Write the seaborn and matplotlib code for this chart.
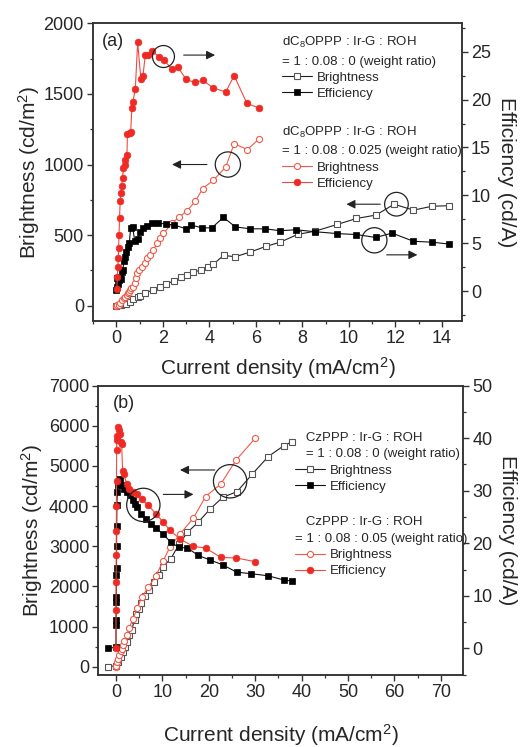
import matplotlib
matplotlib.use('Agg')
import matplotlib.pyplot as plt
from matplotlib.legend import Legend
from matplotlib.ticker import MultipleLocator
import seaborn as sns

# ---------------- panel (a): dC8OPPP : Ir-G : ROH ----------------
# ROH = 0 : brightness (left axis)
a0_bright_x = [0.0, 0.1, 0.2, 0.3, 0.43, 0.57, 0.74, 0.92, 1.03, 1.25, 1.58, 1.86, 2.15, 2.49,
               2.78, 3.04, 3.32, 3.64, 3.93, 4.16, 4.62, 5.12, 5.76, 6.43, 7.05, 7.80, 8.55,
               9.51, 10.33, 11.17, 11.95, 12.78, 13.60, 14.33]
a0_bright_y = [0, 2, 5, 10, 15, 29, 45, 59, 70, 92, 111, 130, 154, 177, 201, 215, 238, 253, 276,
               293, 356, 347, 380, 420, 450, 505, 528, 576, 618, 642, 719, 677, 705, 708]
# ROH = 0 : efficiency (right axis)
a0_eff_x = [0.0, 0.03, 0.05, 0.08, 0.12, 0.15, 0.20, 0.24, 0.28, 0.33, 0.38, 0.43, 0.50, 0.56,
            0.62, 0.70, 0.80, 0.92, 1.03, 1.17, 1.32, 1.53, 1.78, 2.15, 2.49, 3.01, 3.21, 3.68,
            4.11, 4.61, 5.12, 5.76, 6.40, 7.05, 7.72, 8.53, 9.51, 10.32, 11.16, 11.86, 12.78,
            13.60, 14.33]
a0_eff_y = [0.1, 1.4, 0.4, 0.7, 1.1, 1.5, 1.3, 2.0, 2.2, 3.1, 3.6, 4.1, 4.6, 5.0, 6.6, 6.7,
            5.2, 5.4, 6.2, 6.6, 6.8, 7.1, 7.1, 7.0, 6.9, 6.5, 6.9, 6.6, 6.6, 7.7, 6.7, 6.5, 6.5,
            6.3, 6.4, 6.2, 6.0, 5.9, 5.6, 6.05, 5.2, 5.1, 4.9]
# ROH = 0.025 : brightness
a1_bright_x = [0.0, 0.05, 0.10, 0.17, 0.24, 0.32, 0.39, 0.45, 0.50, 0.55, 0.60, 0.65, 0.70,
               0.79, 0.85, 0.89, 0.96, 1.10, 1.22, 1.32, 1.46, 1.60, 1.75, 1.89, 2.03, 2.39,
               2.68, 3.04, 3.40, 3.72, 4.18, 4.71, 5.07, 5.64, 6.16]
a1_bright_y = [0, 2, 5, 20, 40, 52, 64, 76, 88, 100, 111, 123, 135, 158, 194, 229, 253, 276,
               305, 335, 359, 394, 441, 477, 512, 583, 625, 672, 740, 830, 889, 983, 1148,
               1106, 1184]
# ROH = 0.025 : efficiency
a1_eff_x = [0.02, 0.05, 0.07, 0.09, 0.10, 0.12, 0.14, 0.17, 0.20, 0.24, 0.27, 0.31, 0.36,
            0.39, 0.46, 0.48, 0.58, 0.62, 0.67, 0.72, 0.82, 0.92, 1.06, 1.15, 1.25, 1.36,
            1.53, 1.82, 2.06, 2.39, 2.65, 3.01, 3.37, 3.73, 4.18, 4.71, 5.07, 5.62, 6.16]
a1_eff_y = [0.2, 1.5, 2.5, 3.4, 4.5, 5.9, 7.6, 9.4, 10.2, 11.0, 11.8, 12.9, 13.2, 13.7, 14.2,
            16.4, 16.5, 16.6, 19.1, 19.8, 21.1, 26.0, 22.1, 22.5, 24.7, 24.7, 25.1, 24.5,
            24.1, 23.2, 23.4, 22.1, 21.8, 22.0, 21.2, 20.8, 22.5, 19.6, 19.1]

# ---------------- panel (b): CzPPP : Ir-G : ROH ----------------
b0_bright_x = [-1.8, 0.1, 0.5, 1.0, 1.5, 1.9, 2.4, 2.9, 3.4, 4.0, 4.4, 5.0, 5.5, 6.2, 7.2,
               8.2, 9.3, 10.1, 11.8, 13.6, 15.4, 17.7, 20.3, 23.0, 26.1, 29.4, 32.8, 36.2, 38.0]
b0_bright_y = [0, 25, 125, 249, 370, 498, 623, 789, 914, 1163, 1308, 1449, 1590, 1750, 1907,
               2100, 2280, 2492, 2683, 3050, 3347, 3596, 3929, 4219, 4361, 4801, 5233, 5507,
               5606]
b0_eff_x = [-1.8, 0.0, 0.02, 0.04, 0.06, 0.08, 0.10, 0.12, 0.14, 0.16, 0.2, 0.3, 0.4, 0.6,
            0.9, 1.2, 1.7, 2.3, 3.0, 3.6, 4.1, 4.5, 5.3, 6.5, 7.5, 8.6, 10.1, 11.8, 13.6,
            15.4, 17.7, 20.3, 23.0, 26.0, 29.2, 32.8, 36.2, 38.0]
b0_eff_y = [0.0, 0.2, 4.4, 5.4, 8.9, 9.8, 14.0, 15.2, 19.4, 23.2, 27.3, 29.8, 31.1, 32.3,
            32.0, 31.0, 30.3, 29.7, 29.1, 28.3, 27.5, 26.9, 25.6, 24.6, 23.7, 22.9, 21.8,
            20.2, 19.2, 19.1, 17.7, 16.8, 15.9, 14.5, 14.2, 13.8, 13.0, 12.8]
b1_bright_x = [0.0, 0.05, 0.14, 0.36, 0.7, 1.0, 1.22, 1.44, 1.72, 2.30, 2.87, 3.59, 4.60,
               5.53, 6.97, 8.62, 10.2, 11.6, 13.8, 16.7, 19.3, 22.6, 25.9, 30.0]
b1_bright_y = [0, 25, 108, 191, 300, 380, 450, 540, 640, 789, 955, 1180, 1450, 1728, 1977,
               2267, 2641, 2974, 3306, 3704, 4236, 4552, 5150, 5690]
b1_eff_x = [0.0, 0.02, 0.04, 0.06, 0.08, 0.10, 0.12, 0.14, 0.16, 0.29, 0.5, 0.72, 0.9, 1.0,
            1.22, 1.44, 1.72, 2.30, 2.87, 3.59, 4.60, 5.53, 6.97, 8.62, 10.2, 11.6, 13.8,
            16.7, 19.3, 22.6, 25.9, 30.0]
b1_eff_y = [0.0, 7.2, 12.6, 17.7, 22.4, 27.0, 31.9, 37.7, 39.6, 40.5, 42.1, 41.5, 40.8,
            39.2, 38.9, 33.8, 33.1, 31.3, 30.3, 29.7, 29.3, 28.4, 27.2, 25.6, 24.0, 22.5,
            20.8, 19.4, 19.1, 17.3, 17.2, 16.5]

RED = '#ee2a24'
GRAY = '#555555'
INK = '#333333'

sns.set_style('ticks')
plt.rcParams['font.family'] = ['Liberation Sans', 'DejaVu Sans']
plt.rcParams['mathtext.fontset'] = 'custom'
plt.rcParams['mathtext.rm'] = 'Liberation Sans'
plt.rcParams['mathtext.it'] = 'Liberation Sans:italic'
plt.rcParams['mathtext.default'] = 'regular'

styles = {
    'bright0': dict(color='#222222', marker='s', markersize=4.2, markerfacecolor='white',
                    markeredgecolor=GRAY, markeredgewidth=0.8, linewidth=0.8),
    'eff0': dict(color='#111111', marker='s', markersize=4.8, markerfacecolor='black',
                 markeredgecolor='black', markeredgewidth=0.5, linewidth=0.8),
    'bright1': dict(color='#f05a48', marker='o', markersize=4.4, markerfacecolor='white',
                    markeredgecolor='#f05a48', markeredgewidth=0.8, linewidth=0.8),
    'eff1': dict(color='#f04a40', marker='o', markersize=4.8, markerfacecolor=RED,
                 markeredgecolor=RED, markeredgewidth=0.5, linewidth=0.8),
}


def draw(ax, x, y, key):
    sns.lineplot(x=x, y=y, ax=ax, sort=False, estimator=None, **styles[key])
    return ax.lines[-1]


def style_axes(ax, ax2):
    for a in (ax, ax2):
        for sp in a.spines.values():
            sp.set_linewidth(1.1)
            sp.set_color(INK)
        a.tick_params(which='major', direction='out', length=4.5, width=1.0,
                      labelsize=13, color=INK, pad=2)
        a.tick_params(which='minor', direction='out', length=2.5, width=0.9, color=INK)
    ax.tick_params(axis='x', which='both', top=False)
    ax2.tick_params(axis='x', which='both', top=False)


def circle(ax, xy, s):
    ax.scatter([xy[0]], [xy[1]], s=s, facecolors='none', edgecolors='#222222',
               linewidths=0.9, zorder=5)


def arrow(ax, start, end):
    ax.annotate('', xy=end, xytext=start,
                arrowprops=dict(arrowstyle='-|>', color='#222222', lw=0.8,
                                mutation_scale=13, shrinkA=0, shrinkB=0))


def legend_block(ax2, handles, title, anchor, ratio_line, title_spacing):
    leg = Legend(ax2, handles, ['Brightness', 'Efficiency'],
                 title=title + '\n' + ratio_line, loc='upper left',
                 bbox_to_anchor=anchor, frameon=False, fontsize=9.5,
                 title_fontsize=9.5, alignment='left', handlelength=2.3,
                 handletextpad=0.35, labelspacing=0.3, borderpad=0,
                 borderaxespad=0)
    leg.get_title().set_linespacing(title_spacing)
    ax2.add_artist(leg)
    return leg


fig = plt.figure(figsize=(5.21, 7.47), dpi=100)

# ---------- panel (a) ----------
ax_a = fig.add_axes([0.1785, 0.5703, 0.7083, 0.3985])
ax2_a = ax_a.twinx()
hb0 = draw(ax_a, a0_bright_x, a0_bright_y, 'bright0')
hb1 = draw(ax_a, a1_bright_x, a1_bright_y, 'bright1')
he0 = draw(ax2_a, a0_eff_x, a0_eff_y, 'eff0')
he1 = draw(ax2_a, a1_eff_x, a1_eff_y, 'eff1')

ax_a.set_xlim(-1, 14.87)
ax_a.set_ylim(-108, 2000)
ax2_a.set_ylim(-3.13, 27.97)
ax_a.xaxis.set_major_locator(MultipleLocator(2))
ax_a.xaxis.set_minor_locator(MultipleLocator(1))
ax_a.yaxis.set_major_locator(MultipleLocator(500))
ax_a.yaxis.set_minor_locator(MultipleLocator(250))
ax2_a.yaxis.set_major_locator(MultipleLocator(5))
ax2_a.yaxis.set_minor_locator(MultipleLocator(2.5))
style_axes(ax_a, ax2_a)

ax_a.set_xlabel('Current density (mA/cm$^2$)', fontsize=15, labelpad=6)
ax_a.set_ylabel('Brightness (cd/m$^2$)', fontsize=15, labelpad=1)
ax2_a.set_ylabel('Efficiency (cd/A)', fontsize=15, rotation=270, va='bottom', labelpad=4)
ax_a.text(0.024, 0.938, '(a)', transform=ax_a.transAxes, fontsize=13, va='center')

legend_block(ax2_a, [hb0, he0], 'dC$_8$OPPP : Ir-G : ROH', (0.511, 0.962),
             '= 1 : 0.08 : 0 (weight ratio)', 1.65)
legend_block(ax2_a, [hb1, he1], 'dC$_8$OPPP : Ir-G : ROH', (0.511, 0.66),
             '= 1 : 0.08 : 0.025 (weight ratio)', 1.65)

circle(ax2_a, (2.03, 24.5), 250)
arrow(ax2_a, (2.9, 24.65), (4.25, 24.65))
circle(ax_a, (4.8, 1000), 330)
arrow(ax_a, (3.9, 1000), (2.4, 1000))
circle(ax_a, (12.05, 719), 290)
arrow(ax_a, (11.35, 719), (9.9, 719))
circle(ax2_a, (11.1, 5.3), 330)
arrow(ax2_a, (11.63, 3.78), (12.95, 3.78))

# ---------- panel (b) ----------
ax_b = fig.add_axes([0.1887, 0.0964, 0.7006, 0.3873])
ax2_b = ax_b.twinx()
gb0 = draw(ax_b, b0_bright_x, b0_bright_y, 'bright0')
gb1 = draw(ax_b, b1_bright_x, b1_bright_y, 'bright1')
ge0 = draw(ax2_b, b0_eff_x, b0_eff_y, 'eff0')
ge1 = draw(ax2_b, b1_eff_x, b1_eff_y, 'eff1')

ax_b.set_xlim(-3.8, 74.85)
ax_b.set_ylim(-207, 7000)
ax2_b.set_ylim(-5.08, 50)
ax_b.xaxis.set_major_locator(MultipleLocator(10))
ax_b.xaxis.set_minor_locator(MultipleLocator(5))
ax_b.yaxis.set_major_locator(MultipleLocator(1000))
ax_b.yaxis.set_minor_locator(MultipleLocator(500))
ax2_b.yaxis.set_major_locator(MultipleLocator(10))
ax2_b.yaxis.set_minor_locator(MultipleLocator(5))
style_axes(ax_b, ax2_b)

ax_b.set_xlabel('Current density (mA/cm$^2$)', fontsize=15, labelpad=15)
ax_b.set_ylabel('Brightness (cd/m$^2$)', fontsize=15, labelpad=3)
ax2_b.set_ylabel('Efficiency (cd/A)', fontsize=15, rotation=270, va='bottom', labelpad=4)
ax_b.text(0.04, 0.937, '(b)', transform=ax_b.transAxes, fontsize=13, va='center')

legend_block(ax2_b, [gb0, ge0], '   CzPPP : Ir-G : ROH', (0.539, 0.84),
             '   = 1 : 0.08 : 0 (weight ratio)', 1.5)
legend_block(ax2_b, [gb1, ge1], '   CzPPP : Ir-G : ROH', (0.539, 0.548),
             '= 1 : 0.08 : 0.05 (weight ratio)', 1.5)

circle(ax2_b, (5.9, 27.3), 576)
arrow(ax2_b, (10.2, 29.3), (16.7, 29.3))
circle(ax_b, (24.6, 4618), 576)
arrow(ax_b, (21.3, 4900), (13.8, 4900))

fig.savefig('out.png', dpi=100)
